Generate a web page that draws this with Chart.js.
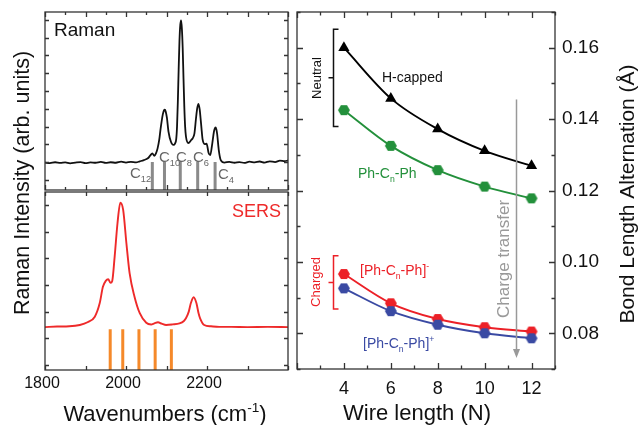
<!DOCTYPE html>
<html>
<head>
<meta charset="utf-8">
<script src="https://cdn.jsdelivr.net/npm/chart.js@4.4.1/dist/chart.umd.min.js"></script>
<style>
  html, body { margin: 0; padding: 0; background: #fff; }
  #wrap { position: relative; width: 638px; height: 425px; overflow: hidden; }
  #wrap canvas { position: absolute; left: 0; top: 0; }
</style>
</head>
<body>
<div id="wrap">
  <canvas id="raman" width="638" height="425"></canvas>
  <canvas id="sers" width="638" height="425"></canvas>
  <canvas id="bla" width="638" height="425"></canvas>
</div>
<script>
// ---- Raman spectrum (top left), intensity in arb. units
var ramanWn = [
  1800,1812,1825,1838,1850,1862,1875,1888,1900,1912,
  1925,1938,1950,1962,1975,1988,2000,2012,2025,2034,
  2044,2054,2060,2065,2070,2074,2078,2082,2085,2088,
  2091,2094,2096,2098,2101,2105,2111,2117,2121,2124,
  2126,2128,2130,2132,2134,2136,2138,2140,2142,2144,
  2146,2148,2154,2161,2165,2169,2173,2176,2179,2182,
  2184,2187,2189,2195,2199,2204,2208,2213,2217,2219,
  2221,2223,2225,2229,2234,2243,2255,2268,2280,2292,
  2305,2318,2330,2342,2355,2368,2380,2392,2400
];
var ramanInt = [
  0.98,0.95,1.00,0.96,0.99,0.94,0.98,1.01,0.95,0.99,
  0.97,1.02,0.96,1.00,0.97,1.03,0.98,1.02,0.99,1.05,
  1.12,1.22,1.38,1.50,1.36,1.50,1.78,2.25,2.81,3.30,
  3.70,3.92,3.95,3.85,3.50,2.71,2.15,1.97,2.05,2.30,
  3.00,4.40,6.20,7.80,8.70,8.97,8.50,7.40,5.70,4.10,
  3.00,2.45,2.08,2.25,2.36,2.62,3.50,4.05,4.28,3.95,
  3.50,2.75,2.30,2.02,2.04,1.52,1.40,2.05,2.70,2.88,
  2.95,2.85,2.60,1.70,1.12,0.98,1.02,0.97,1.01,0.96,
  1.03,0.99,1.04,0.98,1.05,1.01,1.09,1.06,1.10
];
// computed C_n modes (grey sticks)
var ramanSticks = [2065, 2095, 2134, 2177, 2220];
var ramanStickTop = 1.01;

// ---- SERS spectrum (bottom left)
var sersWn = [
  1800,1830,1860,1886,1905,1923,1935,1943,1950,1956,
  1962,1966,1972,1979,1986,1993,2001,2009,2021,2034,
  2050,2062,2070,2079,2088,2099,2115,2132,2143,2148,
  2155,2160,2167,2174,2179,2183,2193,2210,2230,2260,
  2300,2350,2400
];
var sersInt = [
  1.42,1.44,1.45,1.50,1.60,1.81,2.31,2.93,3.15,3.21,
  3.08,3.15,4.06,5.31,6.08,5.81,4.56,3.43,2.56,1.94,
  1.58,1.52,1.56,1.60,1.55,1.50,1.52,1.56,1.65,1.75,
  2.00,2.31,2.54,2.31,1.95,1.75,1.50,1.45,1.43,1.43,
  1.42,1.43,1.42
];
// computed charged-wire modes (orange sticks)
var sersSticks = [1961, 1992, 2032, 2072, 2112];
var sersStickTop = 1.34;
var wnTickLabels = [1800, 2000, 2200];

// ---- Bond length alternation vs wire length (right)
var wireLength = [4, 6, 8, 10, 12];
var blaHcapped = [0.1600, 0.1458, 0.1372, 0.1311, 0.1269];
var blaPhCnPh = [0.1425, 0.1325, 0.1257, 0.1211, 0.1178];
var blaAnion  = [0.0966, 0.0884, 0.0840, 0.0817, 0.0805];
var blaCation = [0.0926, 0.0862, 0.0824, 0.0800, 0.0786];
var wireTickLabels = [4, 6, 8, 10, 12];
var blaTickLabels = [0.08, 0.10, 0.12, 0.14, 0.16];

var FONT = '"Liberation Sans", Arial, Helvetica, sans-serif';
function font(px) { return px + 'px ' + FONT; }

function pts(xs, ys) {
  return xs.map(function(x, i) { return { x: x, y: ys[i] }; });
}
// vertical sticks as one dataset broken by gaps
function sticks(xs, bottom, top) {
  var out = [];
  xs.forEach(function(x) {
    out.push({ x: x, y: bottom }, { x: x, y: top }, { x: x, y: null });
  });
  return out;
}

// text with sub/superscripts: parts = [[text, 0|1(sub)|2(sup)], ...]
function rich(ctx, parts, x, y, size, color, align) {
  ctx.fillStyle = color;
  ctx.textBaseline = 'alphabetic';
  ctx.textAlign = 'left';
  var w = 0;
  parts.forEach(function(p) {
    ctx.font = font(p[1] ? size * 0.62 : size);
    w += ctx.measureText(p[0]).width;
  });
  var cx = align === 'center' ? x - w / 2 : (align === 'right' ? x - w : x);
  parts.forEach(function(p) {
    var s = p[1] ? size * 0.62 : size;
    ctx.font = font(s);
    var dy = p[1] === 1 ? size * 0.28 : (p[1] === 2 ? -size * 0.42 : 0);
    ctx.fillText(p[0], cx, y + dy);
    cx += ctx.measureText(p[0]).width;
  });
}
function vtext(ctx, parts, x, y, size, color) {
  ctx.save();
  ctx.translate(x, y);
  ctx.rotate(-Math.PI / 2);
  rich(ctx, parts, 0, size * 0.36, size, color, 'center');
  ctx.restore();
}

function range(a, b, step) {
  var out = [];
  for (var k = 0; a + k * step <= b + 1e-9; k++) out.push(+(a + k * step).toFixed(4));
  return out;
}

// frame with inward ticks on all four sides + any extra drawing
function framePlugin(cfg) {
  return {
    id: 'frame',
    afterDatasetsDraw: function(chart) {
      var ctx = chart.ctx, a = chart.chartArea;
      var xs = chart.scales.x, ys = chart.scales.y;
      ctx.save();
      ctx.strokeStyle = '#333';
      ctx.lineWidth = 1.3;
      ctx.beginPath();
      cfg.xTicks.forEach(function(t) {
        var px = Math.round(xs.getPixelForValue(t[0])) + 0.5;
        ctx.moveTo(px, a.bottom); ctx.lineTo(px, a.bottom - t[1]);
        ctx.moveTo(px, a.top); ctx.lineTo(px, a.top + t[1]);
      });
      cfg.yTicks.forEach(function(t) {
        var py = Math.round(ys.getPixelForValue(t[0])) + 0.5;
        ctx.moveTo(a.left, py); ctx.lineTo(a.left + t[1], py);
        ctx.moveTo(a.right, py); ctx.lineTo(a.right - t[1], py);
      });
      ctx.stroke();
      ctx.strokeRect(a.left, a.top, a.right - a.left, a.bottom - a.top);
      ctx.restore();
      if (cfg.extra) { ctx.save(); cfg.extra(chart, ctx, xs, ys); ctx.restore(); }
    }
  };
}

function baseOptions(pad, xr, yr) {
  return {
    responsive: false,
    animation: false,
    events: [],
    layout: { padding: pad },
    plugins: { legend: { display: false }, tooltip: { enabled: false } },
    scales: {
      x: { type: 'linear', min: xr[0], max: xr[1], display: false },
      y: { type: 'linear', min: yr[0], max: yr[1], display: false }
    }
  };
}

// ---------- Raman panel ----------
var ramanX = range(1800, 2400, 50).map(function(v) { return [v, v % 100 === 0 ? 5 : 3]; });
var ramanY = range(0, 9, 1).map(function(v) { return [v, 4]; });
new Chart(document.getElementById('raman'), {
  type: 'line',
  data: {
    datasets: [
      { data: pts(ramanWn, ramanInt), borderColor: '#111', borderWidth: 1.8,
        pointRadius: 0, cubicInterpolationMode: 'monotone' },
      { data: sticks(ramanSticks, -0.6, ramanStickTop), borderColor: '#8a8a8a',
        borderWidth: 3, pointRadius: 0, spanGaps: false }
    ]
  },
  options: baseOptions({ left: 45, top: 12, right: 350, bottom: 235 }, [1800, 2400], [-0.56, 9.44]),
  plugins: [framePlugin({
    xTicks: ramanX, yTicks: ramanY,
    extra: function(chart, ctx, xs, ys) {
      ctx.fillStyle = '#111';
      ctx.font = font(19);
      ctx.textAlign = 'left';
      ctx.fillText('Raman', 54, 36);
      // C_n labels next to the sticks
      var g = '#666';
      rich(ctx, [['C', 0], ['12', 1]], 130, 178, 15, g, 'left');
      rich(ctx, [['C', 0], ['10', 1]], 159, 162, 15, g, 'left');
      rich(ctx, [['C', 0], ['8', 1]], 176, 162, 15, g, 'left');
      rich(ctx, [['C', 0], ['6', 1]], 193, 162, 15, g, 'left');
      rich(ctx, [['C', 0], ['4', 1]], 218, 179, 15, g, 'left');
      // left axis title, spanning both spectra
      vtext(ctx, [['Raman Intensity (arb. units)', 0]], 21, 183, 21.5, '#111');
    }
  })]
});

// ---------- SERS panel ----------
var sersX = range(1800, 2400, 100).map(function(v) { return [v, 4]; });
var sersY = range(0, 6, 1).map(function(v) { return [v, 4]; });
new Chart(document.getElementById('sers'), {
  type: 'line',
  data: {
    datasets: [
      { data: pts(sersWn, sersInt), borderColor: '#ee2a2a', borderWidth: 1.9,
        pointRadius: 0, cubicInterpolationMode: 'monotone' },
      { data: sticks(sersSticks, -0.3, sersStickTop), borderColor: '#f5892a',
        borderWidth: 3, pointRadius: 0, spanGaps: false }
    ]
  },
  options: baseOptions({ left: 45, top: 192, right: 350, bottom: 55 }, [1800, 2400], [-0.187, 6.48]),
  plugins: [framePlugin({
    xTicks: sersX, yTicks: sersY,
    extra: function(chart, ctx, xs, ys) {
      ctx.fillStyle = '#ee2a2a';
      ctx.font = font(18);
      ctx.textAlign = 'right';
      ctx.fillText('SERS', 281, 217);
      ctx.fillStyle = '#111';
      ctx.font = font(16);
      ctx.textAlign = 'center';
      wnTickLabels.forEach(function(v) {
        ctx.fillText(String(v), xs.getPixelForValue(v) - 3, 388);
      });
      rich(ctx, [['Wavenumbers (cm', 0], ['-1', 2], [')', 0]], 165, 421, 22, '#111', 'center');
    }
  })]
});

// ---------- BLA panel ----------
function hexagon(color, r) {
  var c = document.createElement('canvas');
  c.width = c.height = 2 * r + 2;
  var g = c.getContext('2d');
  g.fillStyle = color;
  g.beginPath();
  for (var k = 0; k < 6; k++) {
    var ang = k * Math.PI / 3;
    var px = r + 1 + r * Math.cos(ang), py = r + 1 + r * Math.sin(ang) * 0.95;
    if (k === 0) g.moveTo(px, py); else g.lineTo(px, py);
  }
  g.closePath();
  g.fill();
  return c;
}
var GREEN = '#23903b', RED = '#ec2027', BLUE = '#3a4aa3', GREY = '#999';
function series(ys, color, style, r) {
  return {
    data: pts(wireLength, ys), borderColor: color, backgroundColor: color,
    borderWidth: 1.9, pointStyle: style, pointRadius: r, pointBorderWidth: 0,
    tension: 0.3, cubicInterpolationMode: 'monotone'
  };
}
var blaX = range(2, 13, 1).map(function(v) { return [v, v % 2 === 0 ? 6 : 3.5]; });
var blaY = range(0.07, 0.17, 0.01).map(function(v) {
  return [v, Math.round(v * 100) % 2 === 0 ? 6 : 3.5];
});
// bracket / arrow positions in data units
var bracketX = 3.55;
var neutralSpan = [0.1652, 0.1379];
var chargedSpan = [0.1017, 0.0868];
var transferX = 11.34;
var transferSpan = [0.1455, 0.0731];

new Chart(document.getElementById('bla'), {
  type: 'line',
  data: {
    datasets: [
      series(blaHcapped, '#000', 'triangle', 6.5),
      series(blaPhCnPh, GREEN, hexagon(GREEN, 6), 6),
      series(blaCation, BLUE, hexagon(BLUE, 6), 6),
      series(blaAnion, RED, hexagon(RED, 6), 6)
    ]
  },
  options: baseOptions({ left: 297, top: 12, right: 83, bottom: 56 }, [2, 13], [0.07, 0.17]),
  plugins: [framePlugin({
    xTicks: blaX, yTicks: blaY,
    extra: function(chart, ctx, xs, ys) {
      // brackets
      function bracket(span, color) {
        var x = Math.round(xs.getPixelForValue(bracketX)) + 0.5;
        var y0 = ys.getPixelForValue(span[0]), y1 = ys.getPixelForValue(span[1]);
        ctx.strokeStyle = color;
        ctx.lineWidth = 1.5;
        ctx.beginPath();
        ctx.moveTo(x + 5, y0); ctx.lineTo(x, y0); ctx.lineTo(x, y1); ctx.lineTo(x + 5, y1);
        var ym = (y0 + y1) / 2;
        ctx.moveTo(x, ym); ctx.lineTo(x - 5, ym);
        ctx.stroke();
      }
      bracket(neutralSpan, '#111');
      bracket(chargedSpan, RED);
      vtext(ctx, [['Neutral', 0]], 316, 78, 13, '#111');
      vtext(ctx, [['Charged', 0]], 315, 282, 13, RED);

      // charge transfer arrow
      var ax = Math.round(xs.getPixelForValue(transferX)) + 0.5;
      var ay0 = ys.getPixelForValue(transferSpan[0]), ay1 = ys.getPixelForValue(transferSpan[1]);
      ctx.strokeStyle = GREY;
      ctx.fillStyle = GREY;
      ctx.lineWidth = 1.5;
      ctx.beginPath();
      ctx.moveTo(ax, ay0); ctx.lineTo(ax, ay1 - 7);
      ctx.stroke();
      ctx.beginPath();
      ctx.moveTo(ax - 3.5, ay1 - 9); ctx.lineTo(ax + 3.5, ay1 - 9); ctx.lineTo(ax, ay1);
      ctx.closePath();
      ctx.fill();
      vtext(ctx, [['Charge transfer', 0]], 503, 259, 17, GREY);

      // series labels
      rich(ctx, [['H-capped', 0]], 382, 82, 14, '#111', 'left');
      rich(ctx, [['Ph-C', 0], ['n', 1], ['-Ph', 0]], 358, 178, 14, GREEN, 'left');
      rich(ctx, [['[Ph-C', 0], ['n', 1], ['-Ph]', 0], ['-', 2]], 360, 275, 14, RED, 'left');
      rich(ctx, [['[Ph-C', 0], ['n', 1], ['-Ph]', 0], ['+', 2]], 363, 348, 14, BLUE, 'left');

      // tick labels and titles
      ctx.fillStyle = '#111';
      ctx.font = font(18);
      ctx.textAlign = 'center';
      ctx.textBaseline = 'alphabetic';
      wireTickLabels.forEach(function(v) {
        ctx.fillText(String(v), xs.getPixelForValue(v), 394);
      });
      ctx.textAlign = 'left';
      ctx.textBaseline = 'middle';
      ctx.font = font(19);
      blaTickLabels.forEach(function(v) {
        ctx.fillText(v.toFixed(2), 562, ys.getPixelForValue(v));
      });
      rich(ctx, [['Wire length (N)', 0]], 417, 420, 22, '#111', 'center');
      vtext(ctx, [['Bond Length Alternation (\u00C5)', 0]], 626, 194, 21, '#111');
    }
  })]
});
</script>
</body>
</html>
